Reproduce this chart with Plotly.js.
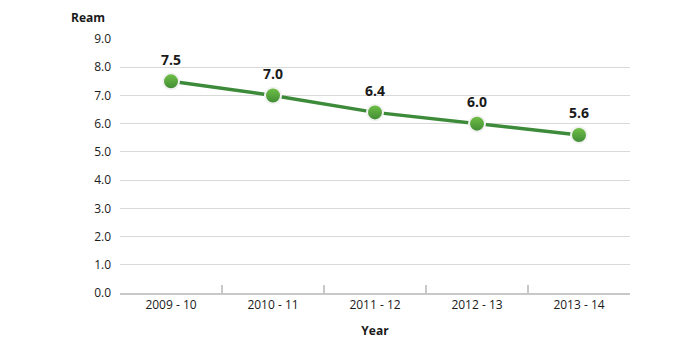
<!DOCTYPE html>
<html><head><meta charset="utf-8">
<script src="https://cdn.plot.ly/plotly-3.0.1.min.js"></script>
<style>html,body{margin:0;padding:0;background:#fff}#c{width:700px;height:352px}</style>
</head><body><div id="c"></div>
<script>
const years = ["2009 - 10", "2010 - 11", "2011 - 12", "2012 - 13", "2013 - 14"];
const ream = [7.5, 7.0, 6.4, 6.0, 5.6];
const yTicks = [0, 1, 2, 3, 4, 5, 6, 7, 8, 9];
const yTickText = ["0.0","1.0","2.0","3.0","4.0","5.0","6.0","7.0","8.0","9.0"];
const FONT = "Open Sans, Noto Sans, sans-serif";

const trace = {
  x: years, y: ream, type: "scatter", mode: "lines+markers",
  line: {color: "#3d8b3a", width: 3.5},
  marker: {size: 16, color: "#72c247", line: {color: "#f2f2f2", width: 2},
           gradient: {type: "vertical", color: "#3f8a35"}},
  hoverinfo: "none"
};
const annotations = years.map((yr, i) => ({
  x: yr, y: ream[i], xref: "x", yref: "y", text: "<b>" + ream[i].toFixed(1) + "</b>",
  showarrow: false, yshift: 22, font: {family: FONT, size: 14, color: "#1a1a1a"}
}));
annotations.push({xref: "paper", yref: "paper", x: -0.063, y: 1.085, xanchor: "center", yanchor: "middle",
  text: "<b>Ream</b>", showarrow: false, font: {family: FONT, size: 12, color: "#1a1a1a"}});

const layout = {
  width: 700, height: 352,
  margin: {l: 120, r: 70, t: 39, b: 59},
  paper_bgcolor: "#fff", plot_bgcolor: "#fff",
  showlegend: false,
  font: {family: FONT, size: 12, color: "#1a1a1a"},
  xaxis: {
    type: "category", range: [-0.5, 4.5], tickson: "boundaries",
    ticks: "inside", ticklen: 8, tickcolor: "#c8c8c8", tickwidth: 1.5,
    showline: true, linecolor: "#c8c8c8", linewidth: 1.5,
    showgrid: false, zeroline: false, fixedrange: true,
    tickfont: {family: FONT, size: 12, color: "#1a1a1a"},
    title: {text: "<b>Year</b>", standoff: 14, font: {family: FONT, size: 12, color: "#1a1a1a"}}
  },
  yaxis: {
    range: [0, 9], tickvals: yTicks, ticktext: yTickText,
    showgrid: true, gridcolor: "#d9d9d9", gridwidth: 1.2,
    zeroline: false, showline: false, ticks: "", ticklabelstandoff: 8,
    tickfont: {family: FONT, size: 12, color: "#1a1a1a"}, fixedrange: true
  },
  annotations: annotations
};
Plotly.newPlot("c", [trace], layout, {displayModeBar: false, staticPlot: true});
</script></body></html>
